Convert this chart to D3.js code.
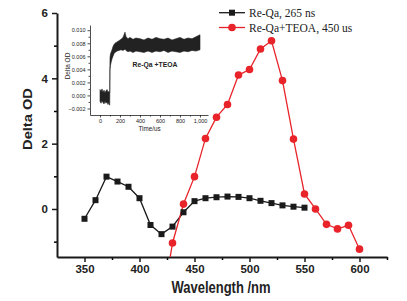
<!DOCTYPE html>
<html>
<head>
<meta charset="UTF-8">
<script src="https://cdnjs.cloudflare.com/ajax/libs/d3/7.8.5/d3.min.js"></script>
<style>
  body{ margin:0; background:#fff; }
  svg{ display:block; }
</style>
</head>
<body>
<div class="chart"></div>
<script>
// main spectra
const waveBlack = [350,360,370,380,390,400,410,420,430,440,450,460,470,480,490,500,510,520,530,540,550];
const odBlack   = [-0.30,0.27,0.99,0.84,0.68,0.33,-0.49,-0.77,-0.54,-0.10,0.24,0.33,0.36,0.38,0.37,0.33,0.25,0.18,0.11,0.07,0.04];
const waveRed = [420,430,440,450,460,470,480,490,500,510,520,530,540,550,560,570,580,590,600];
const odRed   = [-3.1,-1.04,0.15,0.99,2.16,2.81,3.20,4.10,4.27,4.90,5.15,3.93,2.14,0.46,0.0,-0.47,-0.61,-0.50,-1.23];
const seriesNames = ['Re-Qa, 265 ns', 'Re-Qa+TEOA, 450 us'];
const xTicks = [350,400,450,500,550,600];
const yTicks = [0,2,4,6];

// inset kinetic trace, drawn as its noise envelope
const insetTime  = [0,10,20,30,40,50,60,70,80,90,97,100,105,110,120,130,140,150,170,190,210,230,250,260,280,300,330,360,400,440,480,520,560,600,640,680,720,760,800,840,880,920,960,1000];
const insetUpper = [0.0009,0.0006,0.0010,0.0005,0.0008,0.0004,0.0007,0.0009,0.0005,0.0006,0.0004,0.0058,0.0064,0.0066,0.0070,0.0075,0.0078,0.0080,0.0082,0.0084,0.0086,0.0089,0.0097,0.0090,0.0087,0.0089,0.0086,0.0088,0.0087,0.0085,0.0088,0.0086,0.0089,0.0087,0.0086,0.0088,0.0085,0.0087,0.0089,0.0086,0.0088,0.0087,0.0090,0.0093];
const insetLower = [-0.0009,-0.0012,-0.0008,-0.0011,-0.0013,-0.0009,-0.0012,-0.0010,-0.0014,-0.0011,-0.0015,0.0040,0.0046,0.0050,0.0056,0.0060,0.0064,0.0066,0.0068,0.0069,0.0070,0.0069,0.0071,0.0069,0.0067,0.0068,0.0066,0.0068,0.0067,0.0066,0.0068,0.0066,0.0068,0.0067,0.0069,0.0066,0.0068,0.0067,0.0066,0.0068,0.0067,0.0069,0.0068,0.0070];
const insetXTicks = [0,200,400,600,800,1000];
const insetYTicks = [-0.002,0,0.002,0.004,0.006,0.008,0.010];

const W = 407, H = 301;
const box = {left:57, right:387, top:13, bottom:257};
const red = '#e8242a', blk = '#1a1a1a';
const sans = 'Liberation Sans, Arial, sans-serif';

const svg = d3.select('.chart').append('svg').attr('width', W).attr('height', H);

let x = d3.scaleLinear().domain([325, 625]).range([box.left, box.right]);
let y = d3.scaleLinear().domain([-1.47, 6]).range([box.bottom, box.top]);

svg.append('clipPath').attr('id','plotclip')
  .append('rect').attr('x', box.left).attr('y', box.top)
  .attr('width', box.right-box.left).attr('height', box.bottom-box.top);

// minor ticks
let xMinor = d3.axisBottom(x).tickValues(d3.range(375, 626, 50)).tickSize(3).tickFormat('');
let yMinor = d3.axisLeft(y).tickValues([-1,1,3,5]).tickSize(3).tickFormat('');
svg.append('g').attr('transform', `translate(0,${box.bottom})`).call(xMinor).call(g=>g.select('.domain').remove())
  .selectAll('line').attr('stroke-width', 1.5);
svg.append('g').attr('transform', `translate(${box.left},0)`).call(yMinor).call(g=>g.select('.domain').remove())
  .selectAll('line').attr('stroke-width', 1.5);

let xAxis = d3.axisBottom(x).tickValues(xTicks).tickSize(5).tickSizeOuter(0).tickPadding(3);
let yAxis = d3.axisLeft(y).tickValues(yTicks).tickSize(5).tickSizeOuter(0).tickPadding(4);
let gx = svg.append('g').attr('transform', `translate(0,${box.bottom})`).call(xAxis);
let gy = svg.append('g').attr('transform', `translate(${box.left},0)`).call(yAxis);
[gx, gy].forEach(g => {
  g.select('.domain').attr('stroke-width', 2).attr('stroke', blk);
  g.selectAll('line').attr('stroke-width', 1.5).attr('stroke', blk);
  g.selectAll('text').attr('font-family', sans).attr('font-weight', 'bold')
    .attr('font-size', 11.5).attr('fill', '#222');
});

// axis titles
svg.append('text')
  .attr('transform', 'translate(221,293) scale(1,1.2)')
  .attr('text-anchor','middle').attr('font-family', sans).attr('font-weight','bold')
  .attr('font-size', 13).attr('fill','#222').text('Wavelength /nm');
svg.append('text')
  .attr('transform', 'translate(31.5,119) rotate(-90) scale(1.22,1)')
  .attr('text-anchor','middle').attr('font-family', sans).attr('font-weight','bold')
  .attr('font-size', 12).attr('fill','#222').text('Delta OD');

// series
const line = d3.line().x(d=>x(d[0])).y(d=>y(d[1]));
const blackData = waveBlack.map((w,i)=>[w, odBlack[i]]);
const redData = waveRed.map((w,i)=>[w, odRed[i]]);

let plot = svg.append('g').attr('clip-path','url(#plotclip)');
plot.append('path').datum(blackData).attr('d', line)
  .attr('fill','none').attr('stroke', blk).attr('stroke-width', 1.3);
plot.append('path').datum(redData).attr('d', line)
  .attr('fill','none').attr('stroke', red).attr('stroke-width', 1.3);
plot.selectAll('rect.sq').data(blackData).enter().append('rect')
  .attr('class','sq')
  .attr('x', d=>x(d[0])-3).attr('y', d=>y(d[1])-3)
  .attr('width', 6).attr('height', 6).attr('fill', blk);
plot.selectAll('circle.dot').data(redData).enter().append('circle')
  .attr('class','dot')
  .attr('cx', d=>x(d[0])).attr('cy', d=>y(d[1])).attr('r', 3.8).attr('fill', red);

// legend
const legY = [12.7, 27.5];
seriesNames.forEach((name, i) => {
  let c = i === 0 ? blk : red;
  let g = svg.append('g');
  g.append('line').attr('x1', 219).attr('x2', 245).attr('y1', legY[i]).attr('y2', legY[i])
    .attr('stroke', c).attr('stroke-width', 1.3);
  if (i === 0) g.append('rect').attr('x', 229).attr('y', legY[i]-3).attr('width', 6).attr('height', 6).attr('fill', c);
  else g.append('circle').attr('cx', 232).attr('cy', legY[i]).attr('r', 3.8).attr('fill', c);
  g.append('text').attr('x', 249).attr('y', legY[i]+4)
    .attr('font-family', 'Liberation Serif, Times New Roman, serif')
    .attr('font-size', 11.5).attr('fill', '#222').text(name);
});

// inset
const ib = {left:90, right:208, top:25, bottom:115};
let ix = d3.scaleLinear().domain([-100, 1080]).range([ib.left, ib.right]);
let iy = d3.scaleLinear().domain([-0.0030, 0.0108]).range([ib.bottom, ib.top]);
let inset = svg.append('g');

const insetData = insetTime.map((t,i)=>({t, lo: insetLower[i], hi: insetUpper[i]}));
inset.append('path').datum(insetData)
  .attr('d', d3.area().x(d=>ix(d.t)).y0(d=>iy(d.lo)).y1(d=>iy(d.hi)))
  .attr('fill', '#222').attr('stroke', '#222').attr('stroke-width', 0.6);

let ixMinor = d3.axisBottom(ix).tickValues(d3.range(100, 1001, 200)).tickSize(1.5).tickFormat('');
let iyMinor = d3.axisLeft(iy).tickValues([-0.001,0.001,0.003,0.005,0.007,0.009]).tickSize(1.5).tickFormat('');
inset.append('g').attr('transform', `translate(0,${ib.bottom})`).call(ixMinor).call(g=>g.select('.domain').remove());
inset.append('g').attr('transform', `translate(${ib.left},0)`).call(iyMinor).call(g=>g.select('.domain').remove());
let igx = inset.append('g').attr('transform', `translate(0,${ib.bottom})`)
  .call(d3.axisBottom(ix).tickValues(insetXTicks).tickSize(2.5).tickSizeOuter(0).tickPadding(2));
let igy = inset.append('g').attr('transform', `translate(${ib.left},0)`)
  .call(d3.axisLeft(iy).tickValues(insetYTicks).tickSize(2.5).tickSizeOuter(0).tickPadding(2).tickFormat(d3.format('.3f')));
[igx, igy].forEach(g => {
  g.selectAll('text').attr('font-family', sans).attr('font-size', 5.5).attr('fill', '#222');
  g.selectAll('line, .domain').attr('stroke', '#222').attr('stroke-width', 0.8);
});
inset.selectAll('line').attr('stroke', '#222').attr('stroke-width', 0.8);

inset.append('text').attr('x', 149.5).attr('y', 131)
  .attr('text-anchor','middle').attr('font-family', sans).attr('font-size', 6.3).attr('fill','#222')
  .text('Time/us');
inset.append('text').attr('transform', 'translate(70,66) rotate(-90)')
  .attr('text-anchor','middle').attr('font-family', sans).attr('font-size', 6.5).attr('fill','#222')
  .text('Delta OD');
inset.append('text').attr('x', 155).attr('y', 66.5)
  .attr('text-anchor','middle').attr('font-family', sans).attr('font-weight','bold')
  .attr('font-size', 6.8).attr('fill','#222').text('Re-Qa +TEOA');
</script>
</body>
</html>
